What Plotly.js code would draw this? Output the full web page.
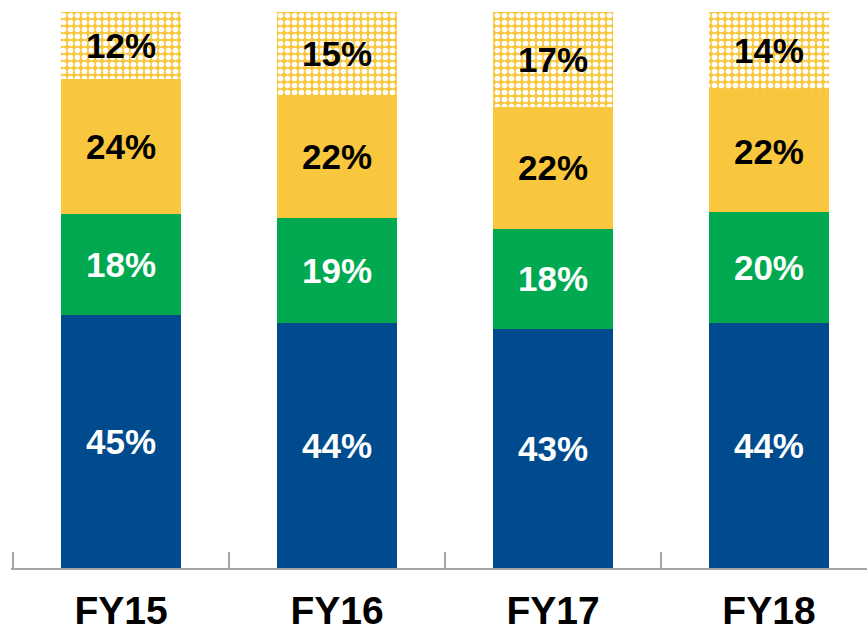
<!DOCTYPE html>
<html><head><meta charset="utf-8">
<script src="https://cdn.plot.ly/plotly-3.0.1.min.js"></script>
<style>html,body{margin:0;padding:0;background:#fff;}#chart{width:867px;height:634px;}</style>
</head><body><div id="chart"></div>
<script>
const categories = ['FY15', 'FY16', 'FY17', 'FY18'];
const seriesBlue = [45, 44, 43, 44];
const seriesGreen = [18, 19, 18, 20];
const seriesYellow = [24, 22, 22, 22];
const seriesPattern = [12, 15, 17, 14];

function pct(arr) { return arr.map(v => v + '%'); }

const common = {
  type: 'bar', x: categories, textposition: 'inside', insidetextanchor: 'middle',
  constraintext: 'none', hoverinfo: 'skip', texttemplate: '%{text}'
};
const fontWhite = {family: 'Liberation Sans, Arial, sans-serif', size: 35, color: '#FFFFFF', weight: 'bold'};
const fontBlack = {family: 'Liberation Sans, Arial, sans-serif', size: 35, color: '#000000', weight: 'bold'};

const traces = [
  Object.assign({}, common, {y: seriesBlue, text: pct(seriesBlue), marker: {color: '#004B8D'}, textfont: fontWhite}),
  Object.assign({}, common, {y: seriesGreen, text: pct(seriesGreen), marker: {color: '#00A94F'}, textfont: fontWhite}),
  Object.assign({}, common, {y: seriesYellow, text: pct(seriesYellow), marker: {color: '#F9C73D'}, textfont: fontBlack}),
  Object.assign({}, common, {y: seriesPattern, text: pct(seriesPattern), textfont: fontBlack,
    marker: {color: '#F9C73D', pattern: {shape: '.', fgcolor: '#FFFFFF', bgcolor: '#F9C73D', size: 7, solidity: 0.5, fillmode: 'replace'}}})
];

const layout = {
  width: 867, height: 634,
  margin: {l: 11, r: 0, t: 12, b: 66},
  paper_bgcolor: '#FFFFFF', plot_bgcolor: '#FFFFFF',
  barmode: 'stack', barnorm: 'percent', bargap: 0.444,
  showlegend: false,
  xaxis: {
    type: 'category', range: [-0.51, 3.454], showline: true, linecolor: '#A6A6A6', linewidth: 2,
    ticks: 'inside', tickson: 'boundaries', ticklen: 16, tickcolor: '#A6A6A6', tickwidth: 2,
    tickfont: {family: 'Liberation Sans, Arial, sans-serif', size: 39, color: '#000000', weight: 'bold'},
    ticklabelstandoff: 7, showgrid: false, zeroline: false, fixedrange: true
  },
  yaxis: {range: [0, 100], visible: false, showgrid: false, zeroline: false, fixedrange: true}
};

Plotly.newPlot('chart', traces, layout, {displayModeBar: false, staticPlot: true});
</script></body></html>
